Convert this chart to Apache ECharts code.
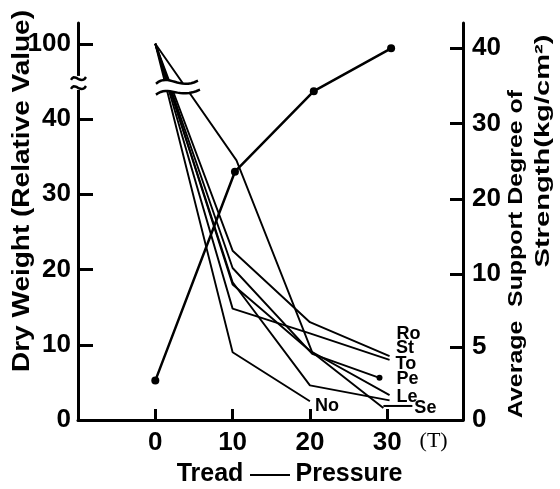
<!DOCTYPE html>
<html><head><meta charset="utf-8">
<script src="https://cdn.jsdelivr.net/npm/echarts@6/dist/echarts.min.js"></script>
<style>html,body{margin:0;padding:0;background:#fff}#c{width:560px;height:489px}</style>
</head><body><div id="c"></div>
<script>
// ---- data ----
const treadTicks = [0, 10, 20, 30];
const unitLabel = '(T)';
const unitPos = 36;
const dryTicks = [0, 10, 20, 30, 40, 100];
const strengthTicks = [0, 5, 10, 20, 30, 40];

const roTread = [0, 10, 20, 30.3];   const roDry = [100, 22.5, 13, 8.5];
const stTread = [0, 10, 20, 30.3];   const stDry = [100, 14.8, 11.5, 8.0];
const toTread = [0, 10, 20.3, 29];   const toDry = [100, 20.2, 8.8, 5.6];
const peTread = [0, 10, 20, 30.3];   const peDry = [100, 18, 9.2, 3.3];
const leTread = [0, 10, 20, 30.3];   const leDry = [100, 18.3, 4.6, 2.6];
const seTread = [0, 10.5, 20.3, 29.5]; const seDry = [100, 34.5, 9, 1.6];
const noTread = [0, 10, 20];         const noDry = [100, 9, 2.5];
const strengthTread = [0, 10.3, 20.5, 30.5];
const strength = [2.7, 23.6, 34.3, 40];

// ---- broken-axis transforms ----
function tLeft(v) { return v <= 40 ? v : 40 + (v - 40) / 6; }
const RK = 1.94;
function tRight(v) { return v <= 10 ? v * RK : 10 * RK + (v - 10); }

const FONT = 'Liberation Sans, Arial, sans-serif';
const dryPos = dryTicks.map(tLeft);
const strPos = strengthTicks.map(tRight);
function lookup(pos, labels, v) {
  const i = pos.findIndex(p => Math.abs(p - v) < 1e-6);
  return i >= 0 ? String(labels[i]) : '';
}

function drySeries(name, xs, ys, dx, dy, endDot) {
  const data = xs.map((x, i) => {
    const item = { value: [x, tLeft(ys[i])] };
    if (endDot && i === xs.length - 1) { item.symbol = 'circle'; item.symbolSize = 6; }
    return item;
  });
  return {
    type: 'line', name, data, symbol: 'none', showSymbol: true,
    lineStyle: { color: '#000', width: 1.9 }, itemStyle: { color: '#000' },
    endLabel: { show: true, formatter: () => name, offset: [dx, dy], distance: 5,
      fontFamily: FONT, fontSize: 18, fontWeight: 'bold', color: '#000' },
    z: 3
  };
}

const labelStyle = { fontFamily: FONT, fontSize: 26, fontWeight: 'bold', color: '#000' };

const option = {
  animation: false,
  backgroundColor: '#fff',
  grid: { left: 78, right: 97, top: 23, bottom: 69 },
  xAxis: {
    type: 'value', min: -10, max: 39.8,
    axisLine: { show: true, onZero: false, lineStyle: { color: '#000', width: 3 } },
    axisTick: { show: true, customValues: treadTicks, inside: true, length: 11, lineStyle: { color: '#000', width: 3 } },
    axisLabel: Object.assign({}, labelStyle, {
      customValues: treadTicks.concat([unitPos]), margin: 10,
      formatter: v => v === unitPos ? '{t|' + unitLabel + '}' : String(v),
      rich: { t: { fontFamily: 'Liberation Serif, serif', fontSize: 22, fontWeight: 'normal', color: '#000' } }
    }),
    splitLine: { show: false }
  },
  yAxis: [{
    type: 'value', position: 'left', min: 0, max: 52.76,
    axisLine: { show: true, onZero: false, lineStyle: { color: '#000', width: 3 } },
    axisTick: { show: true, customValues: dryPos.slice(1), inside: true, length: 15, lineStyle: { color: '#000', width: 3 } },
    axisLabel: Object.assign({}, labelStyle, { customValues: dryPos, margin: 7, formatter: v => lookup(dryPos, dryTicks, v) }),
    splitLine: { show: false }
  }, {
    type: 'value', position: 'right', min: 0, max: 52.76,
    axisLine: { show: true, onZero: false, lineStyle: { color: '#000', width: 3 } },
    axisTick: { show: true, customValues: strPos.slice(1), inside: true, length: 13, lineStyle: { color: '#000', width: 3 } },
    axisLabel: Object.assign({}, labelStyle, { customValues: strPos, margin: 9, formatter: v => lookup(strPos, strengthTicks, v) }),
    splitLine: { show: false }
  }],
  series: [
    drySeries('Ro', roTread, roDry, 2, -22),
    drySeries('St', stTread, stDry, 1.5, -12),
    drySeries('To', toTread, toDry, 11, -14, true),
    drySeries('Pe', peTread, peDry, 2, -16),
    drySeries('Le', leTread, leDry, 2, -3),
    drySeries('Se', seTread, seDry, 26, 0),
    drySeries('No', noTread, noDry, 0, 5),
    {
      type: 'line', name: 'strength', yAxisIndex: 1,
      data: strengthTread.map((x, i) => [x, tRight(strength[i])]),
      symbol: 'circle', symbolSize: 8, showSymbol: true,
      lineStyle: { color: '#000', width: 2.5 }, itemStyle: { color: '#000' }, z: 4
    }
  ]
};

const chart = echarts.init(document.getElementById('c'), null, { renderer: 'canvas' });
chart.setOption(option);

// ---- decorations: titles & break marks ----
const mctx = document.createElement('canvas').getContext('2d');
function textW(t, size) { mctx.font = 'bold ' + size + 'px Liberation Sans'; return mctx.measureText(t).width; }
function vTitle(text, cx, cy, size, len) {
  return { type: 'text', x: cx, y: cy, rotation: Math.PI / 2, scaleX: len / textW(text, size), z: 10,
    style: { text, fontFamily: FONT, fontSize: size, fontWeight: 'bold', fill: '#000', align: 'center', verticalAlign: 'middle' } };
}
function px(x, y) { return chart.convertToPixel({ xAxisIndex: 0, yAxisIndex: 0 }, [x, y]); }
function bez(p0, c1, c2, p1, n) {
  const pts = [];
  for (let i = 0; i <= n; i++) {
    const t = i / n, u = 1 - t;
    pts.push([u*u*u*p0[0] + 3*u*u*t*c1[0] + 3*u*t*t*c2[0] + t*t*t*p1[0],
              u*u*u*p0[1] + 3*u*u*t*c1[1] + 3*u*t*t*c2[1] + t*t*t*p1[1]]);
  }
  return pts;
}
const b = px(2.8, 44.3);
const up = bez([b[0]-21, b[1]-3], [b[0]-8, b[1]-14], [b[0]+2, b[1]+4], [b[0]+21, b[1]-6], 16);
const lo = bez([b[0]-21, b[1]+8], [b[0]-8, b[1]-2], [b[0]+2, b[1]+13], [b[0]+23, b[1]+3], 16);
const axX = chart.convertToPixel({ xAxisIndex: 0 }, -10);
const axY = chart.convertToPixel({ yAxisIndex: 0 }, 44.8);
const w1 = bez([axX-7, axY-3], [axX-3, axY-11], [axX+3, axY+3], [axX+8, axY-6], 10);
const w2 = bez([axX-7, axY+6], [axX-3, axY-2], [axX+3, axY+12], [axX+8, axY+3], 10);
const seEnd = px(seTread[seTread.length-1], tLeft(seDry[seDry.length-1]));
const tickFont = { fontFamily: FONT, fontSize: 25, fontWeight: 'bold', fill: '#000' };

chart.setOption({
  graphic: [
    vTitle('Dry Weight (Relative Value)', 23, 191, 23, 362),
    vTitle('Average  Support Degree of', 516, 254, 21, 328),
    vTitle('Strength(kg/cm²)', 543, 151, 21, 233),
    { type: 'text', x: 210, y: 474, z: 10, style: Object.assign({ text: 'Tread', align: 'center', verticalAlign: 'middle' }, tickFont) },
    { type: 'line', z: 10, shape: { x1: 250, y1: 475, x2: 290, y2: 475 }, style: { stroke: '#000', lineWidth: 2 } },
    { type: 'text', x: 349, y: 474, z: 10, style: Object.assign({ text: 'Pressure', align: 'center', verticalAlign: 'middle' }, tickFont) },
    { type: 'polygon', z: 20, shape: { points: up.concat(lo.slice().reverse()) }, style: { fill: '#fff' } },
    { type: 'polyline', z: 21, shape: { points: up }, style: { stroke: '#000', lineWidth: 2.5, fill: null } },
    { type: 'polyline', z: 21, shape: { points: lo }, style: { stroke: '#000', lineWidth: 2.5, fill: null } },
    { type: 'rect', z: 20, shape: { x: axX - 3, y: axY - 7, width: 6, height: 14 }, style: { fill: '#fff' } },
    { type: 'polyline', z: 21, shape: { points: w1 }, style: { stroke: '#000', lineWidth: 2.5, fill: null } },
    { type: 'polyline', z: 21, shape: { points: w2 }, style: { stroke: '#000', lineWidth: 2.5, fill: null } },
    { type: 'line', z: 10, shape: { x1: seEnd[0], y1: seEnd[1] - 2, x2: seEnd[0] + 29, y2: seEnd[1] - 2 }, style: { stroke: '#000', lineWidth: 2 } }
  ]
});
</script></body></html>
